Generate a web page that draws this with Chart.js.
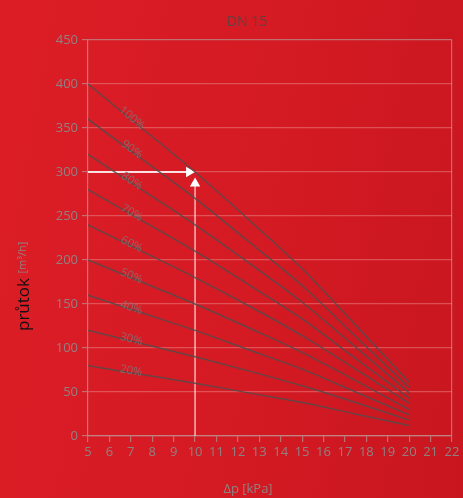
<!DOCTYPE html>
<html>
<head>
<meta charset="utf-8">
<script src="https://cdn.jsdelivr.net/npm/chart.js@4.4.1/dist/chart.umd.min.js"></script>
<style>
  html, body { margin: 0; padding: 0; }
  body {
    width: 463px; height: 498px; overflow: hidden;
    background: linear-gradient(100deg, #dc1d26 0%, #d41a23 55%, #c8161f 100%);
  }
  #wrap { position: relative; width: 463px; height: 498px; }
</style>
</head>
<body>
<div id="wrap"><canvas id="myChart"></canvas></div>
<script>
// tlaková diference [kPa]
const pressure = [5, 7.5, 10, 12.5, 15, 17.5, 20]
const openings = ['100%', '90%', '80%', '70%', '60%', '50%', '40%', '30%', '20%']

// průtok [m3/h] pro jednotlivá otevření
const flow100 = [400, 350, 300, 246, 190, 126, 61]
const flow90 = [360, 315, 270, 221, 171, 113, 55]
const flow80 = [320, 280, 240, 197, 152, 101, 49]
const flow70 = [280, 245, 210, 172, 133, 88, 43]
const flow60 = [240, 210, 180, 148, 114, 76, 37]
const flow50 = [200, 175, 150, 123, 95, 63, 30]
const flow40 = [160, 140, 120, 98, 76, 50, 24]
const flow30 = [120, 105, 90, 74, 57, 38, 18]
const flow20 = [80, 70, 60, 49, 38, 25, 12]
const flows = [flow100, flow90, flow80, flow70, flow60, flow50, flow40, flow30, flow20]

// odečet: 10 kPa -> 300 m3/h
const arrowH = [{ x: 5, y: 300 }, { x: 9.72, y: 300 }]
const arrowV = [{ x: 10, y: 0 }, { x: 10, y: 287 }]

const xTicks = [5, 22, 1]
const yTicks = [0, 450, 50]

const grey = 'rgba(140,135,135,0.95)'

const datasets = flows.map((f, i) => ({
  label: openings[i],
  data: f.map((v, j) => ({ x: pressure[j], y: v })),
  borderColor: 'rgba(85,75,75,0.85)',
  borderWidth: 1.5,
  pointRadius: 0,
  cubicInterpolationMode: 'monotone',
  fill: false
}))

datasets.push({
  data: arrowH,
  borderColor: 'rgba(255,255,255,0.85)',
  backgroundColor: '#fff',
  borderWidth: 2,
  pointStyle: 'triangle',
  pointRadius: [0, 6],
  rotation: [0, 90],
  pointBorderWidth: 0
})
datasets.push({
  data: arrowV,
  borderColor: 'rgba(255,220,220,0.75)',
  backgroundColor: '#fff',
  borderWidth: 1.6,
  pointStyle: 'triangle',
  pointRadius: [0, 6],
  rotation: [0, 0],
  pointBorderWidth: 0
})

/* popisky na křivkách + titulky */
const textPlugin = {
  id: 'texty',
  afterDatasetsDraw(chart) {
    const ctx = chart.ctx
    const xs = chart.scales.x
    ctx.save()
    ctx.font = '11.5px "Open Sans"'
    ctx.fillStyle = 'rgba(130,115,115,0.85)'
    ctx.textAlign = 'center'
    ctx.textBaseline = 'bottom'
    openings.forEach((lab, i) => {
      const meta = chart.getDatasetMeta(i)
      const p0 = meta.data[0], p1 = meta.data[1]
      const px = xs.getPixelForValue(7)
      const t = (px - p0.x) / (p1.x - p0.x)
      const py = p0.y + t * (p1.y - p0.y)
      const ang = Math.atan2(p1.y - p0.y, p1.x - p0.x)
      ctx.save()
      ctx.translate(px, py)
      ctx.rotate(ang)
      ctx.fillText(lab, 0, 4)
      ctx.restore()
    })
    ctx.restore()
  },
  afterDraw(chart) {
    const ctx = chart.ctx
    ctx.save()
    ctx.textAlign = 'center'
    ctx.textBaseline = 'middle'
    ctx.fillStyle = 'rgba(85,70,70,0.9)'
    ctx.font = '14px "Open Sans"'
    ctx.fillText('DN 15', 247, 22)

    ctx.fillStyle = grey
    ctx.font = '13px "Open Sans"'
    ctx.fillText('Δp [kPa]', 248, 489)

    // osa y: "průtok [m³/h]"
    ctx.translate(24, 0)
    ctx.rotate(-Math.PI / 2)
    ctx.textAlign = 'left'
    ctx.fillStyle = '#111'
    ctx.font = '17px "Open Sans"'
    ctx.fillText('průtok', -331, 0)
    const w = ctx.measureText('průtok ').width
    ctx.fillStyle = grey
    ctx.font = '11px "Open Sans"'
    ctx.fillText('[m³/h]', -331 + w, -1)
    ctx.restore()
  }
}

const config = {
  type: 'line',
  data: { datasets },
  options: {
    responsive: false,
    animation: false,
    layout: { padding: { top: 40, right: 11, left: 0, bottom: 0 } },
    plugins: {
      legend: { display: false },
      tooltip: { enabled: false }
    },
    scales: {
      x: {
        type: 'linear',
        min: xTicks[0], max: xTicks[1],
        ticks: { stepSize: xTicks[2], color: grey, font: { family: 'Open Sans', size: 13 }, padding: 2, maxRotation: 0, autoSkip: false },
        grid: {
          color: (c) => c.tick && c.tick.value === xTicks[1] ? 'rgba(185,140,140,0.75)' : 'rgba(0,0,0,0)',
          tickColor: 'rgba(185,140,140,0.75)',
          tickLength: 6,
          lineWidth: 1.2
        },
        border: { color: 'rgba(185,140,140,0.85)', width: 1.2 },
        afterFit: (s) => { s.height = 62 }
      },
      y: {
        type: 'linear',
        min: yTicks[0], max: yTicks[1],
        ticks: { stepSize: yTicks[2], color: grey, font: { family: 'Open Sans', size: 13 }, padding: 4 },
        grid: {
          color: (c) => c.tick && c.tick.value === yTicks[1] ? 'rgba(185,140,140,0.75)' : 'rgba(240,150,150,0.45)',
          tickColor: 'rgba(185,140,140,0.75)',
          tickLength: 6,
          lineWidth: 1.2
        },
        border: { color: 'rgba(185,140,140,0.85)', width: 1.2 },
        afterFit: (s) => { s.width = 88 }
      }
    }
  },
  plugins: [textPlugin]
}

const myChart = document.getElementById('myChart')
myChart.width = 463
myChart.height = 498
new Chart(myChart, config)
</script>
</body>
</html>
